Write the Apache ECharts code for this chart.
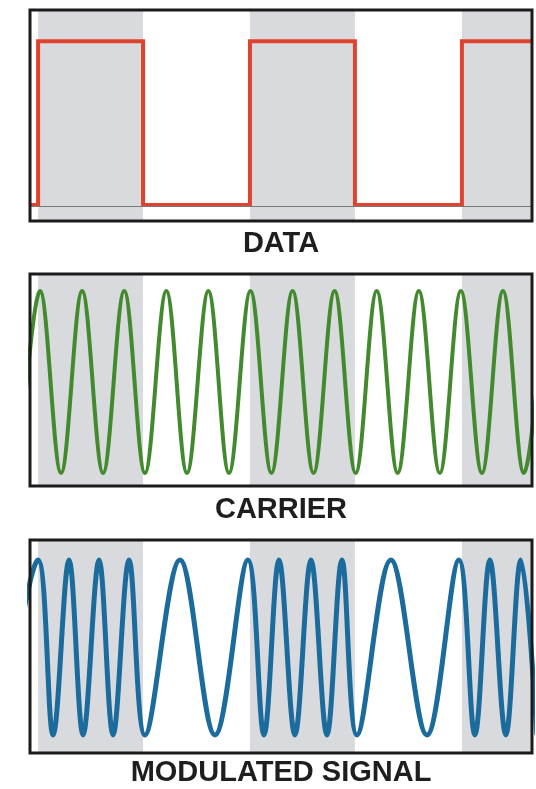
<!DOCTYPE html>
<html><head><meta charset="utf-8">
<script src="https://cdn.jsdelivr.net/npm/echarts@6/dist/echarts.min.js"></script>
<style>html,body{margin:0;padding:0;background:#fff}#c{width:536px;height:789px}</style>
</head><body><div id="c"></div>
<script>
// ---- data (time in bit periods) ----
const panelTitles = ['DATA', 'CARRIER', 'MODULATED SIGNAL'];
const timeRange = [-0.01, 4.71];
const bitEdges = [0.066, 1.053, 2.058, 3.045, 4.051];
const dataLevels = [0, 1, 0, 1, 0, 1];
const baselineLevel = -0.012;

const carrierTimes = [-0.113, 0.085, 0.282, 0.480, 0.677, 0.876, 1.071, 1.272, 1.466, 1.667, 1.861, 2.063, 2.260,
  2.459, 2.656, 2.854, 3.052, 3.250, 3.447, 3.646, 3.843, 4.041, 4.239, 4.437, 4.633, 4.831];
const carrierValues = [-1, 1, -1, 1, -1, 1, -1, 1, -1, 1, -1, 1, -1,
  1, -1, 1, -1, 1, -1, 1, -1, 1, -1, 1, -1, 1];

const modulatedTimes = [-0.263, 0.066, 0.207, 0.357, 0.489, 0.639, 0.771, 0.921, 1.071, 1.400, 1.729, 2.039, 2.190, 2.331,
  2.481, 2.632, 2.782, 2.923, 3.064, 3.383, 3.722, 4.023, 4.173, 4.314, 4.464, 4.605, 4.756];
const modulatedValues = [-1, 1, -1, 1, -1, 1, -1, 1, -1, 1, -1, 1, -1, 1,
  -1, 1, -1, 1, -1, 1, -1, 1, -1, 1, -1, 1, -1];

// ---- layout / style ----
const gridLeft = 30, gridWidth = 502;
const panels = [
  { top: 10, height: 211, yMin: -0.098, yMax: 1.19, color: '#de4330', width: 4, labelY: 244 },
  { top: 274, height: 212, yMin: -1.143, yMax: 1.187, color: '#438a2e', width: 4, labelY: 510 },
  { top: 540, height: 213, yMin: -1.206, yMax: 1.229, color: '#1b6c9c', width: 5, labelY: 773 }
];
const bandColor = '#d9dadd';

// ---- build series data ----
const dataPoints = [[timeRange[0], dataLevels[0]]];
bitEdges.forEach((t, i) => dataPoints.push([t, dataLevels[i + 1]]));
dataPoints.push([timeRange[1], dataLevels[dataLevels.length - 1]]);

const carrierPoints = carrierTimes.map((t, i) => [t, carrierValues[i]]);
const modulatedPoints = modulatedTimes.map((t, i) => [t, modulatedValues[i]]);

const bands = [];
dataLevels.forEach((lv, i) => {
  if (lv === 1) {
    const s = i === 0 ? timeRange[0] : bitEdges[i - 1];
    const e = i < bitEdges.length ? bitEdges[i] : timeRange[1];
    bands.push([{ xAxis: s }, { xAxis: e }]);
  }
});
const markArea = { silent: true, itemStyle: { color: bandColor, opacity: 1 }, label: { show: false }, data: bands };

const chart = echarts.init(document.getElementById('c'), null, { renderer: 'canvas' });

const grids = panels.map(p => ({ left: gridLeft, top: p.top, width: gridWidth, height: p.height, show: false }));
const xAxes = panels.map((p, i) => ({
  type: 'value', gridIndex: i, min: timeRange[0], max: timeRange[1],
  axisLine: { show: false }, axisTick: { show: false }, axisLabel: { show: false }, splitLine: { show: false }
}));
const yAxes = panels.map((p, i) => ({
  type: 'value', gridIndex: i, min: p.yMin, max: p.yMax,
  axisLine: { show: false }, axisTick: { show: false }, axisLabel: { show: false }, splitLine: { show: false }
}));

const seriesData = [dataPoints, carrierPoints, modulatedPoints];
const series = panels.map((p, i) => {
  const s = {
    type: 'line', xAxisIndex: i, yAxisIndex: i, data: seriesData[i],
    showSymbol: false, symbol: 'none', clip: true,
    step: i === 0 ? 'end' : false,
    smooth: i === 0 ? false : 0.36,
    lineStyle: { color: p.color, width: p.width, join: 'miter' },
    markArea: markArea, z: 3
  };
  if (i === 0) {
    s.markLine = {
      silent: true, symbol: 'none', label: { show: false },
      lineStyle: { color: '#7a7a7a', width: 1, type: 'solid' },
      data: [{ yAxis: baselineLevel }]
    };
  }
  return s;
});

const graphics = [];
panels.forEach((p, i) => {
  graphics.push({
    type: 'rect', z: 100, silent: true,
    shape: { x: gridLeft, y: p.top, width: gridWidth, height: p.height },
    style: { fill: 'none', stroke: '#1b1b1b', lineWidth: 3 }
  });
  graphics.push({
    type: 'text', z: 100, silent: true, x: gridLeft + gridWidth / 2, y: p.labelY,
    style: {
      text: panelTitles[i], fill: '#1e1e1e',
      font: 'bold 29px "Liberation Sans", Arial, sans-serif',
      textAlign: 'center', textVerticalAlign: 'middle', align: 'center', verticalAlign: 'middle'
    }
  });
});

chart.setOption({
  animation: false,
  backgroundColor: '#ffffff',
  grid: grids, xAxis: xAxes, yAxis: yAxes, series: series, graphic: graphics
});
</script></body></html>
